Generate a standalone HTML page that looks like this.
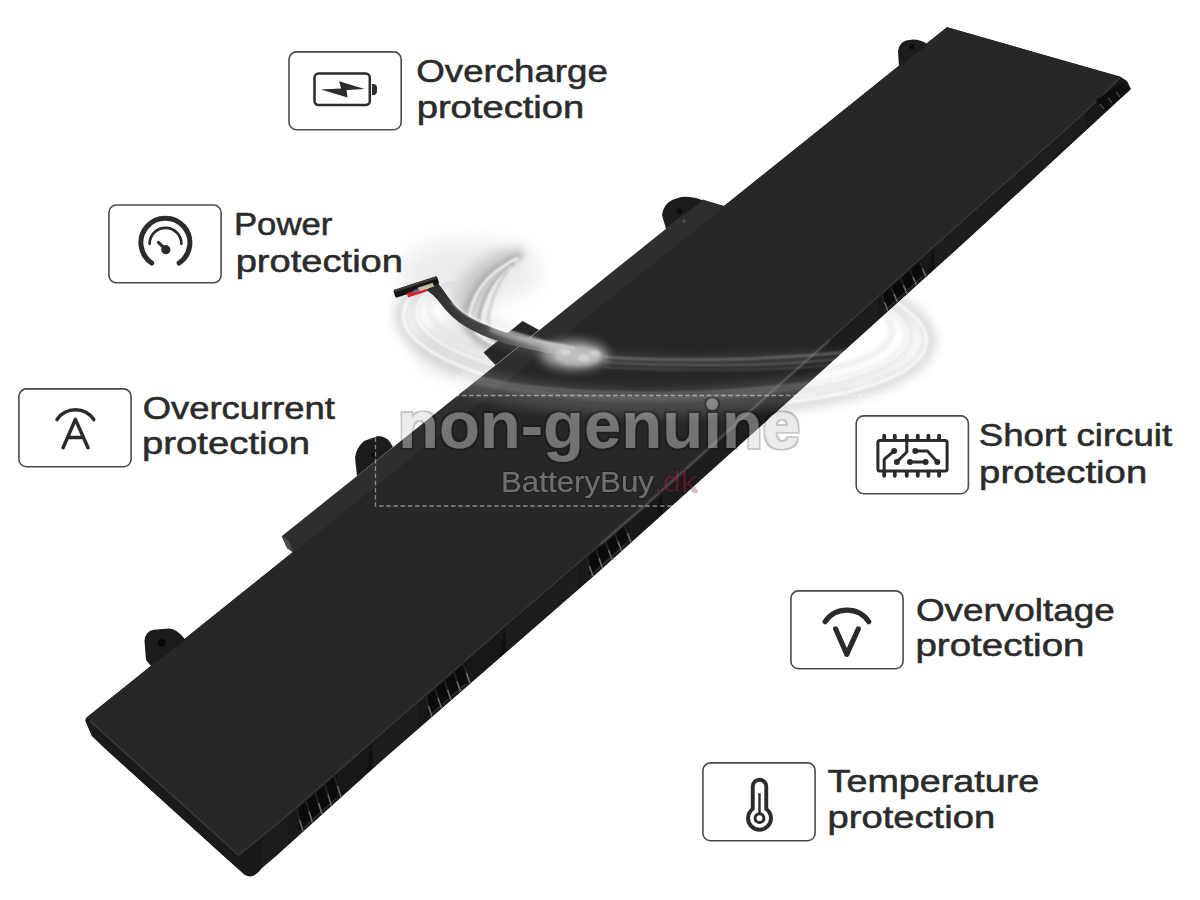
<!DOCTYPE html>
<html>
<head>
<meta charset="utf-8">
<style>
html,body{margin:0;padding:0;background:#fff;}
body{width:1200px;height:900px;overflow:hidden;position:relative;}
svg{position:absolute;left:0;top:0;}
.lbl{font-family:"Liberation Sans",sans-serif;font-size:32px;fill:#2b2b2b;stroke:#2b2b2b;stroke-width:0.55px;}
.box{fill:none;stroke:#4a4a4a;stroke-width:1.6;}
.ic{fill:none;stroke:#2b2b2b;stroke-linecap:round;stroke-linejoin:round;}
</style>
</head>
<body>
<svg width="1200" height="900" viewBox="0 0 1200 900">
  <defs>
    <filter id="blur4" x="-20%" y="-20%" width="140%" height="140%"><feGaussianBlur stdDeviation="4"/></filter>
    <filter id="blur2" x="-20%" y="-20%" width="140%" height="140%"><feGaussianBlur stdDeviation="2"/></filter>
    <filter id="blur1" x="-20%" y="-20%" width="140%" height="140%"><feGaussianBlur stdDeviation="1"/></filter>

    <filter id="wmf" filterUnits="userSpaceOnUse" x="380" y="380" width="440" height="110">
      <feMorphology operator="dilate" radius="1.8" in="SourceAlpha" result="d"/>
      <feComposite in="d" in2="SourceAlpha" operator="out" result="ring"/>
      <feFlood flood-color="#000" flood-opacity="0.22"/>
      <feComposite in2="ring" operator="in" result="ringc"/>
      <feFlood flood-color="#d4d4d4" flood-opacity="0.44"/>
      <feComposite in2="SourceAlpha" operator="in" result="fillc"/>
      <feMerge><feMergeNode in="ringc"/><feMergeNode in="fillc"/></feMerge>
    </filter>
    <filter id="wmf2" x="-5%" y="-20%" width="110%" height="140%">
      <feMorphology operator="dilate" radius="1.2" in="SourceAlpha" result="d"/>
      <feComposite in="d" in2="SourceAlpha" operator="out" result="ring"/>
      <feFlood flood-color="#000" flood-opacity="0.22"/>
      <feComposite in2="ring" operator="in" result="ringc"/>
      <feFlood flood-color="#d4d4d4" flood-opacity="0.42"/>
      <feComposite in2="SourceAlpha" operator="in" result="fillc"/>
      <feMerge><feMergeNode in="ringc"/><feMergeNode in="fillc"/></feMerge>
    </filter>
    <filter id="wmf3" x="-5%" y="-20%" width="110%" height="140%">
      <feMorphology operator="dilate" radius="1.2" in="SourceAlpha" result="d"/>
      <feComposite in="d" in2="SourceAlpha" operator="out" result="ring"/>
      <feFlood flood-color="#000" flood-opacity="0.22"/>
      <feComposite in2="ring" operator="in" result="ringc"/>
      <feFlood flood-color="#b02040" flood-opacity="0.34"/>
      <feComposite in2="SourceAlpha" operator="in" result="fillc"/>
      <feMerge><feMergeNode in="ringc"/><feMergeNode in="fillc"/></feMerge>
    </filter>
    <filter id="blur3" x="-30%" y="-30%" width="160%" height="160%"><feGaussianBlur stdDeviation="3"/></filter>
    <filter id="blur5" x="-50%" y="-50%" width="200%" height="200%"><feGaussianBlur stdDeviation="5"/></filter>
    <filter id="blur6" x="-30%" y="-50%" width="160%" height="200%"><feGaussianBlur stdDeviation="6"/></filter>
    <filter id="blur10" x="-50%" y="-50%" width="200%" height="200%"><feGaussianBlur stdDeviation="10"/></filter>
    <filter id="blur8" x="-50%" y="-50%" width="200%" height="200%"><feGaussianBlur stdDeviation="8"/></filter>
    <clipPath id="ringclip"><rect x="0" y="282" width="1200" height="300"/></clipPath>
    <clipPath id="batclip"><path d="M947,27.5 L1120,76.5 L1127,81 L1131,89 L970.0,237.3 L730.0,453.8 L595.0,575.0 L380.0,762.2 L276.7,855.6 L262,868 Q253,880 245,875 L226,858 L104.5,748 L92,736 L85.5,721 L86,718 L293,552.3 L287,548 L282,536 L483.5,352.5 L522.5,321 L702.6,199.6 L724.4,206.1 Z"/></clipPath>
    <linearGradient id="cablegrad" gradientUnits="userSpaceOnUse" x1="430" y1="0" x2="562" y2="0">
      <stop offset="0" stop-color="#2c2c2c"/>
      <stop offset="0.45" stop-color="#484848"/>
      <stop offset="0.8" stop-color="#777777"/>
      <stop offset="1" stop-color="#9a9a9a" stop-opacity="0"/>
    </linearGradient>
  </defs>

  <!-- ============ SWIRL (under battery, on white) ============ -->
  <g id="swirl-under">
    <!-- broad haze -->
    <ellipse cx="470" cy="272" rx="70" ry="32" fill="#d4d4d4" opacity="0.45" filter="url(#blur10)"/>
    <path d="M450,305 Q458,268 495,252 Q520,244 530,246 Q505,262 494,282 Q484,305 482,335 L462,330 Z" fill="#a8a8a8" opacity="0.45" filter="url(#blur6)"/>
    <!-- haze below cable -->
    <ellipse cx="470" cy="348" rx="55" ry="32" fill="#d8d8d8" opacity="0.5" filter="url(#blur8)"/>
    <!-- outer rings (lower/left arcs) -->
    <g clip-path="url(#ringclip)">
      <g transform="rotate(3 665 328)">
        <ellipse cx="665" cy="328" rx="265" ry="80" fill="none" stroke="#c8c8c8" stroke-width="14" opacity="0.6" filter="url(#blur5)"/>
        <ellipse cx="665" cy="328" rx="262" ry="77" fill="none" stroke="#ffffff" stroke-width="2.5" opacity="0.9" filter="url(#blur1)"/>
        <ellipse cx="662" cy="324" rx="248" ry="70" fill="none" stroke="#d0d0d0" stroke-width="8" opacity="0.55" filter="url(#blur3)"/>
        <ellipse cx="662" cy="324" rx="246" ry="68" fill="none" stroke="#ffffff" stroke-width="2" opacity="0.85" filter="url(#blur1)"/>
        <ellipse cx="660" cy="320" rx="232" ry="60" fill="none" stroke="#d8d8d8" stroke-width="5" opacity="0.45" filter="url(#blur2)"/>
      </g>
    </g>
    <!-- inner curl rings -->
    <path d="M522,254 Q476,274 466,312 Q462,338 505,352" fill="none" stroke="#9a9a9a" stroke-width="7" opacity="0.7" filter="url(#blur3)"/>
    <path d="M518,258 Q478,277 470,312 Q467,336 506,349" fill="none" stroke="#ffffff" stroke-width="2.2" opacity="0.95" filter="url(#blur1)"/>
    <path d="M514,264 Q486,282 479,316 Q477,336 510,346" fill="none" stroke="#a0a0a0" stroke-width="3.5" opacity="0.6" filter="url(#blur1)"/>
    <path d="M512,266 Q490,284 483,316 Q481,334 512,344" fill="none" stroke="#ffffff" stroke-width="1.6" opacity="0.9" filter="url(#blur1)"/>
    <path d="M508,270 Q494,288 488,318 Q487,332 514,342" fill="none" stroke="#b0b0b0" stroke-width="2.5" opacity="0.5" filter="url(#blur1)"/>
  </g>

  <!-- ============ BATTERY ============ -->
  <g id="battery">
    <path fill="#181818" d="M947,27.5 L1120,76.5 L1127,81 L1131,89 L970.0,237.3 L730.0,453.8 L595.0,575.0 L380.0,762.2 L276.7,855.6 L262,868 Q253,880 245,875 L226,858 L104.5,748 L92,736 L85.5,721 L86,718 Z"/>
    <path fill="#272727" d="M947,27 L1120,77 L1075.6,121.0 L970.0,214.2 L785.0,380.0 L643.6,507.0 L499.6,630.7 L280.0,821.8 L239.0,854.7 L86,718 Z"/>
    <path d="M1120.0,78.0 L1075.6,121.0 L970.0,214.2 L785.0,380.0 L643.6,507.0 L499.6,630.7 L280.0,821.8 L239.0,854.7" fill="none" stroke="#3a3a3a" stroke-width="1.3"/>
    <path fill="#1a1a1a" d="M86,718 L239,854.7 L245,875 L226,858 L104.5,748 L92,736 L85.5,721 Z"/>
    <path d="M90,721 L239,855.5" fill="none" stroke="#3c3c3c" stroke-width="1.4"/>
    <path fill="#1d1d1d" d="M934.0,248.0 L1085.0,113.4 L1085.0,129.3 L934.0,268.8 Z"/>
    <path fill="#1d1d1d" d="M662.0,492.0 L878.0,298.2 L878.0,319.3 L662.0,513.8 Z"/>
    <path fill="#1d1d1d" d="M505.0,627.6 L578.0,564.9 L578.0,588.8 L505.0,652.4 Z"/>
    <path fill="#1d1d1d" d="M372.0,743.2 L418.0,703.2 L418.0,728.1 L372.0,768.4 Z"/>
    <path fill="#1d1d1d" d="M262.0,837.7 L288.0,816.3 L288.0,844.4 L262.0,867.3 Z"/>
    <path fill="#101010" d="M934.0,247.5 L928.0,274.2 L935.0,267.9 Z"/>
    <path fill="#101010" d="M662.0,491.5 L656.0,519.2 L663.0,513.0 Z"/>
    <path fill="#101010" d="M505.0,627.1 L499.0,657.6 L506.0,651.5 Z"/>
    <path fill="#101010" d="M372.0,742.7 L366.0,773.9 L373.0,767.5 Z"/>
    <path fill="#0b0b0b" d="M922.0,259.7 L884.0,293.8 L884.0,311.9 L922.0,277.6 Z"/><path d="M922.0,277.1 L884.0,311.4" stroke="#333" stroke-width="1.2" fill="none"/><path d="M919.0,260.2 L926.0,276.6" stroke="#222" stroke-width="2" fill="none"/><path d="M922.5,268.4 L926.0,276.6" stroke="#6e6e6e" stroke-width="1.4" fill="none"/><path d="M909.5,268.7 L916.5,285.2" stroke="#222" stroke-width="2" fill="none"/><path d="M913.0,277.0 L916.5,285.2" stroke="#6e6e6e" stroke-width="1.4" fill="none"/><path d="M900.0,277.2 L907.0,293.7" stroke="#222" stroke-width="2" fill="none"/><path d="M903.5,285.5 L907.0,293.7" stroke="#6e6e6e" stroke-width="1.4" fill="none"/><path d="M890.5,285.8 L897.5,302.3" stroke="#222" stroke-width="2" fill="none"/><path d="M894.0,294.0 L897.5,302.3" stroke="#6e6e6e" stroke-width="1.4" fill="none"/><path d="M881.0,294.3 L888.0,310.9" stroke="#222" stroke-width="2" fill="none"/><path d="M884.5,302.6 L888.0,310.9" stroke="#6e6e6e" stroke-width="1.4" fill="none"/>
    <path fill="#0b0b0b" d="M627.0,523.8 L589.0,556.4 L589.0,577.2 L627.0,543.3 Z"/><path d="M627.0,542.8 L589.0,576.7" stroke="#333" stroke-width="1.2" fill="none"/><path d="M624.0,524.3 L631.0,542.3" stroke="#222" stroke-width="2" fill="none"/><path d="M627.5,533.3 L631.0,542.3" stroke="#6e6e6e" stroke-width="1.4" fill="none"/><path d="M614.5,532.4 L621.5,550.8" stroke="#222" stroke-width="2" fill="none"/><path d="M618.0,541.6 L621.5,550.8" stroke="#6e6e6e" stroke-width="1.4" fill="none"/><path d="M605.0,540.6 L612.0,559.3" stroke="#222" stroke-width="2" fill="none"/><path d="M608.5,550.0 L612.0,559.3" stroke="#6e6e6e" stroke-width="1.4" fill="none"/><path d="M595.5,548.7 L602.5,567.9" stroke="#222" stroke-width="2" fill="none"/><path d="M599.0,558.3 L602.5,567.9" stroke="#6e6e6e" stroke-width="1.4" fill="none"/><path d="M586.0,556.9 L593.0,576.2" stroke="#222" stroke-width="2" fill="none"/><path d="M589.5,566.6 L593.0,576.2" stroke="#6e6e6e" stroke-width="1.4" fill="none"/>
    <path fill="#0b0b0b" d="M466.0,662.4 L428.0,695.5 L428.0,717.4 L466.0,684.3 Z"/><path d="M466.0,683.8 L428.0,716.9" stroke="#333" stroke-width="1.2" fill="none"/><path d="M463.0,662.9 L470.0,683.3" stroke="#222" stroke-width="2" fill="none"/><path d="M466.5,673.1 L470.0,683.3" stroke="#6e6e6e" stroke-width="1.4" fill="none"/><path d="M453.5,671.2 L460.5,691.6" stroke="#222" stroke-width="2" fill="none"/><path d="M457.0,681.4 L460.5,691.6" stroke="#6e6e6e" stroke-width="1.4" fill="none"/><path d="M444.0,679.5 L451.0,699.9" stroke="#222" stroke-width="2" fill="none"/><path d="M447.5,689.7 L451.0,699.9" stroke="#6e6e6e" stroke-width="1.4" fill="none"/><path d="M434.5,687.7 L441.5,708.1" stroke="#222" stroke-width="2" fill="none"/><path d="M438.0,697.9 L441.5,708.1" stroke="#6e6e6e" stroke-width="1.4" fill="none"/><path d="M425.0,696.0 L432.0,716.4" stroke="#222" stroke-width="2" fill="none"/><path d="M428.5,706.2 L432.0,716.4" stroke="#6e6e6e" stroke-width="1.4" fill="none"/>
    <path fill="#0b0b0b" d="M337.0,774.7 L299.0,807.8 L299.0,832.4 L337.0,798.1 Z"/><path d="M337.0,797.6 L299.0,831.9" stroke="#333" stroke-width="1.2" fill="none"/><path d="M334.0,775.2 L341.0,797.1" stroke="#222" stroke-width="2" fill="none"/><path d="M337.5,786.1 L341.0,797.1" stroke="#6e6e6e" stroke-width="1.4" fill="none"/><path d="M324.5,783.5 L331.5,805.7" stroke="#222" stroke-width="2" fill="none"/><path d="M328.0,794.6 L331.5,805.7" stroke="#6e6e6e" stroke-width="1.4" fill="none"/><path d="M315.0,791.7 L322.0,814.3" stroke="#222" stroke-width="2" fill="none"/><path d="M318.5,803.0 L322.0,814.3" stroke="#6e6e6e" stroke-width="1.4" fill="none"/><path d="M305.5,800.0 L312.5,822.8" stroke="#222" stroke-width="2" fill="none"/><path d="M309.0,811.4 L312.5,822.8" stroke="#6e6e6e" stroke-width="1.4" fill="none"/><path d="M296.0,808.3 L303.0,831.4" stroke="#222" stroke-width="2" fill="none"/><path d="M299.5,819.9 L303.0,831.4" stroke="#6e6e6e" stroke-width="1.4" fill="none"/>
    <path fill="#0e0e0e" d="M1096,100 L1122,82 L1130,90 L1104,112 Z"/>
    <path d="M1100,104 l4,5" stroke="#555" stroke-width="1.2"/>
    <path d="M1108,98 l4,5" stroke="#555" stroke-width="1.2"/>
    <path d="M1116,92 l4,5" stroke="#555" stroke-width="1.2"/>
    <path fill="#2e2e2e" d="M282,536 L702.6,199.6 L724.4,206.1 L293,552.3 L287,548 Z"/>
    <path d="M293,552.3 L724.4,206.1" stroke="#2f2f2f" stroke-width="1" fill="none"/>
    <path fill="#4a4a4a" d="M281.5,536 L287,548 L293,552.3 L289,541 Z"/>
    <path fill="#1c1c1c" d="M899,67 L898,51 Q899,43 906,40.5 L913,39.5 Q921,39.5 927.5,44.5 Z"/>
    <circle cx="912" cy="46.7" r="2.6" fill="#0a0a0a"/>
    <path fill="#1c1c1c" d="M666,229 L662,215 Q663,205 672,200 L681,197 Q693,196 702.6,200.4 Z"/>
    <circle cx="679.3" cy="211.3" r="2.8" fill="#0a0a0a"/>
    <circle cx="684" cy="221" r="1.5" fill="#555"/>
    <path fill="#1c1c1c" d="M357,476 L355,458 Q356,448 364,441 L378,436 Q388,436 393,447 Z"/>
    <circle cx="373.3" cy="455" r="2.5" fill="#0a0a0a"/>
    <path fill="#1c1c1c" d="M151,666 L146,660 L144.5,641 Q145,631.5 153.5,629.8 L169,628.6 Q177,628.6 185.5,640 Z"/>
    <circle cx="161.7" cy="642.8" r="4" fill="#0a0a0a"/>
    <path fill="#262626" d="M495.5,365 L483.5,352.5 L522.5,321 L539,330 Z"/>
  </g>

  <!-- ============ SWIRL (over battery) ============ -->
  <g id="swirl-over" clip-path="url(#batclip)">
    <path d="M935,330 Q895,395 665,403 Q470,403 405,350" fill="none" stroke="#ffffff" stroke-width="26" opacity="0.16" filter="url(#blur6)"/>
    <path d="M915,345 Q870,392 665,398 Q480,398 430,360" fill="none" stroke="#ffffff" stroke-width="6" opacity="0.16" filter="url(#blur2)"/>
    <path d="M900,352 Q860,388 665,393 Q490,392 445,364" fill="none" stroke="#ffffff" stroke-width="1.5" opacity="0.22" filter="url(#blur1)"/>
    <path d="M470,330 Q520,350 600,358 Q720,368 880,352" fill="none" stroke="#ffffff" stroke-width="12" opacity="0.1" filter="url(#blur4)"/>
    <path d="M604,357 Q660,361 740,359 Q800,357 870,350" fill="none" stroke="#ffffff" stroke-width="1.8" opacity="0.3" filter="url(#blur1)"/>
    <path d="M604,362 Q660,366 740,365 Q800,364 860,357" fill="none" stroke="#ffffff" stroke-width="1.5" opacity="0.24" filter="url(#blur1)"/>
    <path d="M604,367 Q660,371 740,370 Q800,369 850,363" fill="none" stroke="#ffffff" stroke-width="1.3" opacity="0.18" filter="url(#blur1)"/>
  </g>

  <!-- front edge reflection -->
  <path d="M600,544.6 L643.6,507 L785,380 L830,340" fill="none" stroke="#8a8a8a" stroke-width="1.6" opacity="0.55" filter="url(#blur1)"/>
  <!-- cable -->
  <g id="cable">
    <path d="M437,282 C444,290 450,302 462,312 C472,320 484,324 496,329 C514,336 530,339 548,342 Q556,344 562,346 L560,356 Q552,354 543,352 C520,348 498,342 482,335 C466,328 454,320 444,308 C438,300 433,294 426,290 Z" fill="url(#cablegrad)"/>
    <path d="M452,302 Q462,314 482,322 Q508,332 545,342 L575,348" fill="none" stroke="#ffffff" stroke-width="2.5" opacity="0.5" filter="url(#blur1)"/>
    <path d="M490,328 Q525,342 565,349" fill="none" stroke="#ffffff" stroke-width="6" opacity="0.45" filter="url(#blur2)"/>
    <g transform="translate(395,296) rotate(-18)">
      <rect x="0" y="-6" width="46" height="8" rx="1.5" fill="#141414"/>
      <rect x="1" y="-6" width="44" height="2.5" fill="#3c3c3c"/>
      <rect x="12" y="1" width="20" height="4.5" fill="#d02828"/>
      <rect x="24" y="-1" width="16" height="4" fill="#d8d8b8" opacity="0.85"/>
      <rect x="19" y="0" width="6" height="3" fill="#6070b0" opacity="0.8"/>
    </g>
    <ellipse cx="574" cy="355" rx="34" ry="15" fill="#ffffff" opacity="0.5" filter="url(#blur5)"/>
    <ellipse cx="578" cy="356" rx="24" ry="10" fill="#e8e8e8" opacity="0.45" filter="url(#blur2)"/>
    <ellipse cx="566" cy="352" rx="5" ry="3" fill="#ffffff" opacity="0.35" filter="url(#blur1)"/>
    <ellipse cx="584" cy="358" rx="6" ry="3.5" fill="#ffffff" opacity="0.3" filter="url(#blur1)"/>
    <ellipse cx="595" cy="353" rx="5" ry="3" fill="#ffffff" opacity="0.3" filter="url(#blur1)"/>
  </g>

  <!-- ============ WATERMARK ============ -->
  <g id="wm">
    <rect x="375.5" y="395.5" width="640" height="110.5" fill="none" stroke="#ffffff" stroke-opacity="0.45" stroke-width="1.3" stroke-dasharray="4.6 2.6"/>
    <g filter="url(#wmf)"><text x="398" y="447.75" font-family="Liberation Sans" font-weight="bold" font-size="67.5" textLength="402" lengthAdjust="spacingAndGlyphs" fill="#000">non-genu&#305;ne</text><circle cx="712.2" cy="404.2" r="5.8" fill="#000"/></g>
    <text x="501" y="492.4" font-family="Liberation Sans" font-size="29" textLength="153" lengthAdjust="spacingAndGlyphs" fill="#000" filter="url(#wmf2)">BatteryBuy</text>
    <text x="654" y="492.4" font-family="Liberation Sans" font-size="29" textLength="43" lengthAdjust="spacingAndGlyphs" fill="#000" filter="url(#wmf3)">.dk</text>
  </g>

  <!-- ============ LABEL BOXES ============ -->
  <g id="labels">
    <rect class="box" x="289" y="51.9" width="112.2" height="77.8" rx="7.5"/>
    <rect class="box" x="108.9" y="205.0" width="112.2" height="77.8" rx="7.5"/>
    <rect class="box" x="18.9" y="388.9" width="112.2" height="77.8" rx="7.5"/>
    <rect class="box" x="856.2" y="415.9" width="112.2" height="77.8" rx="7.5"/>
    <rect class="box" x="790.9" y="590.9" width="112.2" height="77.8" rx="7.5"/>
    <rect class="box" x="702.9" y="762.9" width="112.2" height="77.8" rx="7.5"/>

    <!-- icon 1: battery charge -->
    <rect class="ic" x="314.5" y="73.6" width="55.3" height="31.5" rx="4" stroke-width="2.5"/>
    <path fill="#2b2b2b" d="M372,84 L374,84 Q377,84.5 377,88 L377,91 Q377,94.5 374,95 L372,95 Z"/>
    <path fill="#2b2b2b" d="M320.9,89.4 L341.1,88.4 L339.06,81.3 L364.6,89.0 L346.6,89.9 L347.5,97.6 Z"/>
    <!-- icon 2: gauge -->
    <path class="ic" stroke-width="5" d="M151.7,263 A24.5,24.5 0 1 1 179.1,263"/>
    <path class="ic" stroke-width="2.7" d="M149.6,243.8 A15.9,15.9 0 0 1 181.4,243.8"/>
    <path class="ic" stroke-width="3.1" d="M158.4,242.3 L165.8,249.7"/>
    <circle cx="165.8" cy="249.7" r="4.6" fill="#2b2b2b"/>
    <!-- icon 3: A -->
    <path class="ic" stroke-width="3.5" d="M57,419.6 A22.2,22.2 0 0 1 93.8,419.6"/>
    <path class="ic" stroke-width="3.5" d="M63.1,447.7 L75.4,419.4 L88,447.7 M69.4,437.6 L81.4,437.6"/>
    <!-- icon 4: chip -->
    <rect class="ic" x="877.9" y="440.6" width="69.2" height="30.5" rx="2" stroke-width="3"/>
    <path class="ic" stroke-width="3.8" d="M884.2,435.6 V440 M894.8,435.6 V440 M906.8,435.6 V440 M917.8,435.6 V440 M928.4,435.6 V440 M939.1,435.6 V440 M884.2,472 V475.8 M894.8,472 V475.8 M906.8,472 V475.8 M917.8,472 V475.8 M928.4,472 V475.8 M939.1,472 V475.8"/>
    <path class="ic" stroke-width="3" d="M884.2,471 V459.4 L894.1,450.9 M906.8,441 V452 L896.9,461.9 M915.3,450.9 H927.4 L937.3,461.9 M910,461.9 H925.6"/>
    <circle cx="894.1" cy="450.9" r="3" fill="#2b2b2b"/>
    <circle cx="896.9" cy="461.9" r="3" fill="#2b2b2b"/>
    <circle cx="915.3" cy="450.9" r="3" fill="#2b2b2b"/>
    <circle cx="937.3" cy="461.9" r="3" fill="#2b2b2b"/>
    <circle cx="910" cy="461.9" r="3" fill="#2b2b2b"/>
    <circle cx="925.6" cy="461.9" r="3" fill="#2b2b2b"/>
    <!-- icon 5: V -->
    <path class="ic" stroke-width="5.1" d="M825.1,621.7 A26.4,26.4 0 0 1 868.8,621.7"/>
    <path class="ic" stroke-width="5.1" d="M835.6,628.9 L846.8,654.4 L858.3,628.9"/>
    <!-- icon 6: thermometer -->
    <path class="ic" stroke-width="3.9" d="M752.75,809 V786.5 A6.75,6.75 0 0 1 766.25,786.5 V809 A11.45,11.45 0 1 1 752.75,809 Z"/>
    <path class="ic" stroke-width="2.4" d="M759.5,794.2 V813.5"/>
    <circle class="ic" cx="759.5" cy="818.2" r="4.4" stroke-width="3"/>

    <text class="lbl" x="416.3" y="81.6" textLength="191.5" lengthAdjust="spacingAndGlyphs">Overcharge</text>
    <text class="lbl" x="416.7" y="118" textLength="167.6" lengthAdjust="spacingAndGlyphs">protection</text>
    <text class="lbl" x="233.9" y="235.4" textLength="98.5" lengthAdjust="spacingAndGlyphs">Power</text>
    <text class="lbl" x="235.7" y="271.5" textLength="167.3" lengthAdjust="spacingAndGlyphs">protection</text>
    <text class="lbl" x="142.7" y="418.6" textLength="192.2" lengthAdjust="spacingAndGlyphs">Overcurrent</text>
    <text class="lbl" x="142.0" y="454.1" textLength="168.1" lengthAdjust="spacingAndGlyphs">protection</text>
    <text class="lbl" x="978.8" y="446.4" textLength="193.3" lengthAdjust="spacingAndGlyphs">Short circuit</text>
    <text class="lbl" x="979.1" y="482.7" textLength="168.1" lengthAdjust="spacingAndGlyphs">protection</text>
    <text class="lbl" x="915.9" y="621.2" textLength="198.8" lengthAdjust="spacingAndGlyphs">Overvoltage</text>
    <text class="lbl" x="915.4" y="656.4" textLength="169.1" lengthAdjust="spacingAndGlyphs">protection</text>
    <text class="lbl" x="827.6" y="791.9" textLength="211.6" lengthAdjust="spacingAndGlyphs">Temperature</text>
    <text class="lbl" x="827.6" y="828.2" textLength="167.5" lengthAdjust="spacingAndGlyphs">protection</text>
  </g>
</svg>
</body>
</html>
